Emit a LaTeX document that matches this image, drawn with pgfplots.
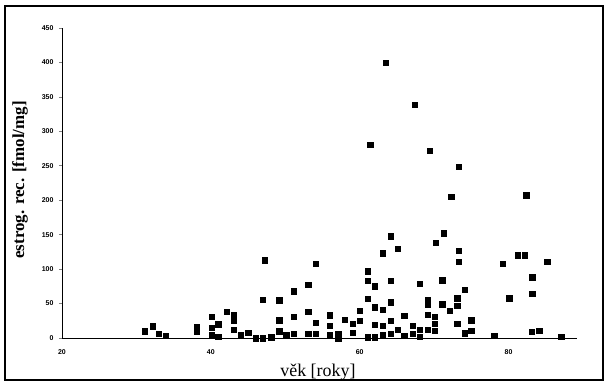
\documentclass[border=0pt]{standalone}
\usepackage{fontspec}
\setmainfont{Liberation Serif}
\newfontfamily\ticksf{Liberation Sans}
\usepackage{pgfplots}
\pgfplotsset{compat=1.18}
\begin{document}
\begin{tikzpicture}
\useasboundingbox (0,0) rectangle (606bp,387bp);
\draw[line width=1.6bp] (5bp,7bp) rectangle (603bp,381bp);
\begin{axis}[
  at={(62bp,49bp)}, anchor=south west,
  scale only axis, width=515bp, height=310bp,
  xmin=20, xmax=89.2, ymin=0, ymax=450,
  axis lines*=left,
  axis line style={line width=0.9bp},
  clip=false,
  xtick={20,40,60,80},
  ytick={0,50,...,450},
  xtick style={draw=none},
  ytick style={line width=0.6bp},
  tick align=outside,
  major tick length=3bp,
  /pgf/number format/assume math mode=true,
  ticklabel style={font=\ticksf\bfseries\fontsize{7}{8}\selectfont},
  xticklabel style={yshift=-5bp},
  yticklabel style={xshift=-2bp},
  xlabel={věk [roky]},
  ylabel={estrog. rec. [fmol/mg]},
  xlabel style={font=\fontsize{18}{20}\selectfont, at={(axis description cs:0.497,0)}, anchor=center, yshift=-34bp},
  ylabel style={font=\bfseries\fontsize{17}{19}\selectfont, at={(axis description cs:0,0.51)}, anchor=center, yshift=42bp},
]
\addplot[only marks, mark=square*, mark size=2.7bp, black] table {
x y
31.1 10
32.2 17
33.0 6
33.9 3
38.1 16
38.1 9
40.1 31
40.1 15
40.1 5
41.0 20
41.0 2
42.1 38
43.1 34
43.1 26
43.1 12
44.0 5
45.0 8
46.0 0
47.0 0
47.2 113
47.0 56
48.1 1
49.2 55
49.2 26
49.2 10
50.1 4
51.1 68
51.1 31
51.1 6
53.1 77
53.1 38
53.1 6
54.1 108
54.1 22
54.1 6
56.0 33
56.0 18
56.0 4
57.1 6
57.1 0
58.0 27
59.1 21
59.1 8
60.0 40
60.0 25
61.1 97
61.1 83
61.1 57
61.1 1
62.0 75
62.0 45
62.0 19
62.0 1
63.1 123
63.1 41
63.1 18
63.1 5
64.2 148
64.2 83
64.2 52
64.2 25
64.2 6
65.1 130
65.1 12
66.0 32
66.0 3
67.1 18
67.1 6
68.1 79
68.1 12
68.1 2
67.4 339
63.5 400
61.4 281
69.4 272
73.3 249
72.3 205
82.4 207
71.3 152
70.2 138
73.3 127
73.3 111
71.1 84
74.1 70
69.1 55
69.1 48
71.1 49
72.1 40
73.1 58
73.1 47
69.1 34
70.1 31
70.1 21
70.1 11
73.1 21
75.0 26
75.0 11
69.1 12
74.1 7
78.1 3
81.2 120
82.2 120
79.2 108
85.2 111
83.2 88
83.2 64
80.1 58
83.1 9
84.1 11
87.1 2
};
\end{axis}
\end{tikzpicture}
\end{document}
